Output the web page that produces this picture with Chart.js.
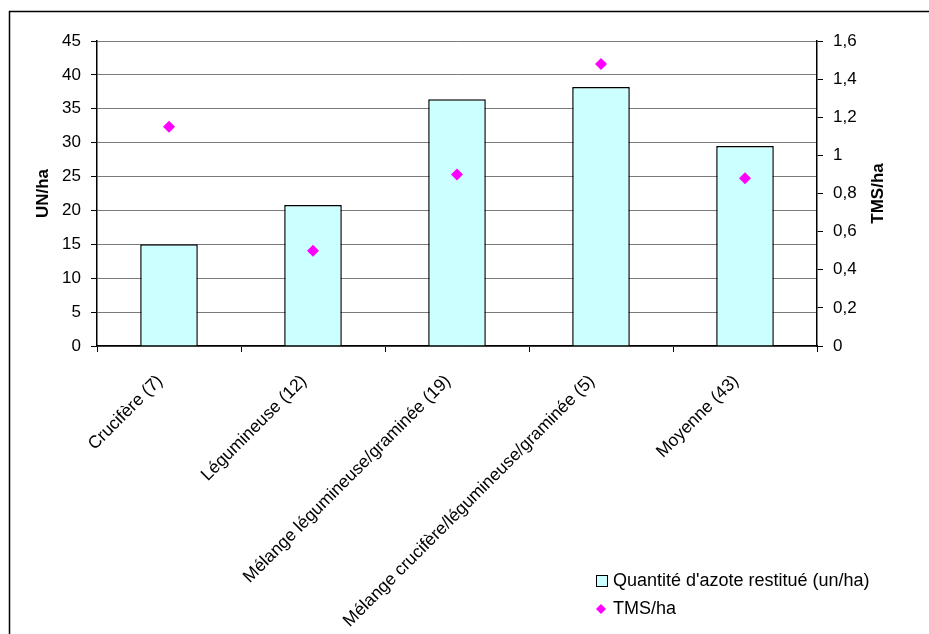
<!DOCTYPE html>
<html>
<head>
<meta charset="utf-8">
<script src="https://cdn.jsdelivr.net/npm/chart.js@4.4.1/dist/chart.umd.min.js"></script>
<style>
  html, body { margin: 0; padding: 0; background: #fff; }
  #wrap { width: 929px; height: 634px; position: relative; }
</style>
</head>
<body>
<div id="wrap"><canvas id="azote"></canvas></div>
<script>
var categories = [
    'Crucifère (7)',
    'Légumineuse (12)',
    'Mélange légumineuse/graminée (19)',
    'Mélange crucifère/légumineuse/graminée (5)',
    'Moyenne (43)'
];
var azoteRestitue = [15, 20.8, 36.4, 38.2, 29.5];
var tmsHa = [1.15, 0.5, 0.9, 1.48, 0.88];

var leftTitle = 'UN/ha';
var rightTitle = 'TMS/ha';
var font = 'Liberation Sans, Arial, sans-serif';

// cadre, titres des axes et légende dessinés à la main
var decor = {
    id: 'decor',
    afterDraw: function (chart) {
        var ctx = chart.ctx;
        var area = chart.chartArea;
        ctx.save();
        ctx.strokeStyle = '#000';
        ctx.lineWidth = 1.5;
        ctx.strokeRect(9.5, 11.5, chart.width + 20, chart.height + 20);

        ctx.fillStyle = '#000';
        ctx.font = 'bold 17px ' + font;
        ctx.textAlign = 'center';
        ctx.textBaseline = 'middle';
        var mid = (area.top + area.bottom) / 2;
        ctx.save();
        ctx.translate(43, mid);
        ctx.rotate(-Math.PI / 2);
        ctx.fillText(leftTitle, 0, 0);
        ctx.restore();
        ctx.save();
        ctx.translate(878, mid);
        ctx.rotate(-Math.PI / 2);
        ctx.fillText(rightTitle, 0, 0);
        ctx.restore();

        // légende
        var bar = chart.data.datasets[1];
        var pts = chart.data.datasets[0];
        ctx.font = '18px ' + font;
        ctx.textAlign = 'left';
        ctx.fillStyle = bar.backgroundColor;
        ctx.fillRect(596.5, 575.5, 11, 11);
        ctx.strokeStyle = '#000';
        ctx.lineWidth = 1;
        ctx.strokeRect(596.5, 575.5, 11, 11);
        ctx.fillStyle = '#000';
        ctx.fillText(bar.label, 613, 581);

        ctx.fillStyle = pts.pointBackgroundColor;
        ctx.beginPath();
        ctx.moveTo(601, 604);
        ctx.lineTo(606, 609);
        ctx.lineTo(601, 614);
        ctx.lineTo(596, 609);
        ctx.closePath();
        ctx.fill();
        ctx.fillStyle = '#000';
        ctx.fillText(pts.label, 613, 609);
        ctx.restore();
    }
};

var fmtComma = function (value) {
    return String(Number(value.toFixed(1))).replace('.', ',');
};

var ctx = document.getElementById('azote').getContext('2d');
var azoteChart = new Chart(ctx, {
    type: 'bar',
    data: {
        labels: categories,
        datasets: [{
            type: 'line',
            label: 'TMS/ha',
            data: tmsHa,
            yAxisID: 'y1',
            showLine: false,
            pointStyle: 'rectRot',
            pointRadius: 6,
            pointBackgroundColor: '#FF00FF',
            pointBorderColor: '#FF00FF',
            pointBorderWidth: 0,
            order: 0
        }, {
            label: "Quantité d'azote restitué (un/ha)",
            data: azoteRestitue,
            yAxisID: 'y',
            backgroundColor: '#CCFFFF',
            borderColor: '#000',
            borderWidth: 1.5,
            categoryPercentage: 1,
            barPercentage: 0.4,
            order: 1
        }]
    },
    options: {
        responsive: true,
        maintainAspectRatio: false,
        animation: false,
        layout: { padding: { top: 41, left: 0, right: 0, bottom: 0 } },
        plugins: {
            legend: { display: false },
            tooltip: { enabled: false }
        },
        scales: {
            x: {
                offset: true,
                afterFit: function (scale) { scale.height = 288; },
                grid: {
                    offset: true,
                    drawOnChartArea: false,
                    tickLength: 6,
                    color: '#000'
                },
                border: { color: '#000', width: 1.5 },
                ticks: {
                    minRotation: 45,
                    maxRotation: 45,
                    autoSkip: false,
                    padding: 19,
                    labelOffset: -9,
                    color: '#000',
                    font: { family: font, size: 17.5 }
                }
            },
            y: {
                position: 'left',
                min: 0,
                max: 45,
                afterFit: function (scale) { scale.width = 97; },
                grid: {
                    color: '#7a7a7a',
                    tickColor: '#000',
                    tickLength: 6
                },
                border: { color: '#000', width: 1.5 },
                ticks: {
                    stepSize: 5,
                    padding: 10,
                    color: '#000',
                    font: { family: font, size: 17 }
                }
            },
            y1: {
                position: 'right',
                min: 0,
                max: 1.6,
                afterFit: function (scale) { scale.width = 112; },
                grid: {
                    drawOnChartArea: false,
                    color: '#000',
                    tickLength: 6
                },
                border: { color: '#000', width: 1.5 },
                ticks: {
                    stepSize: 0.2,
                    padding: 10,
                    color: '#000',
                    font: { family: font, size: 17 },
                    callback: fmtComma
                }
            }
        }
    },
    plugins: [decor]
});
</script>
</body>
</html>
